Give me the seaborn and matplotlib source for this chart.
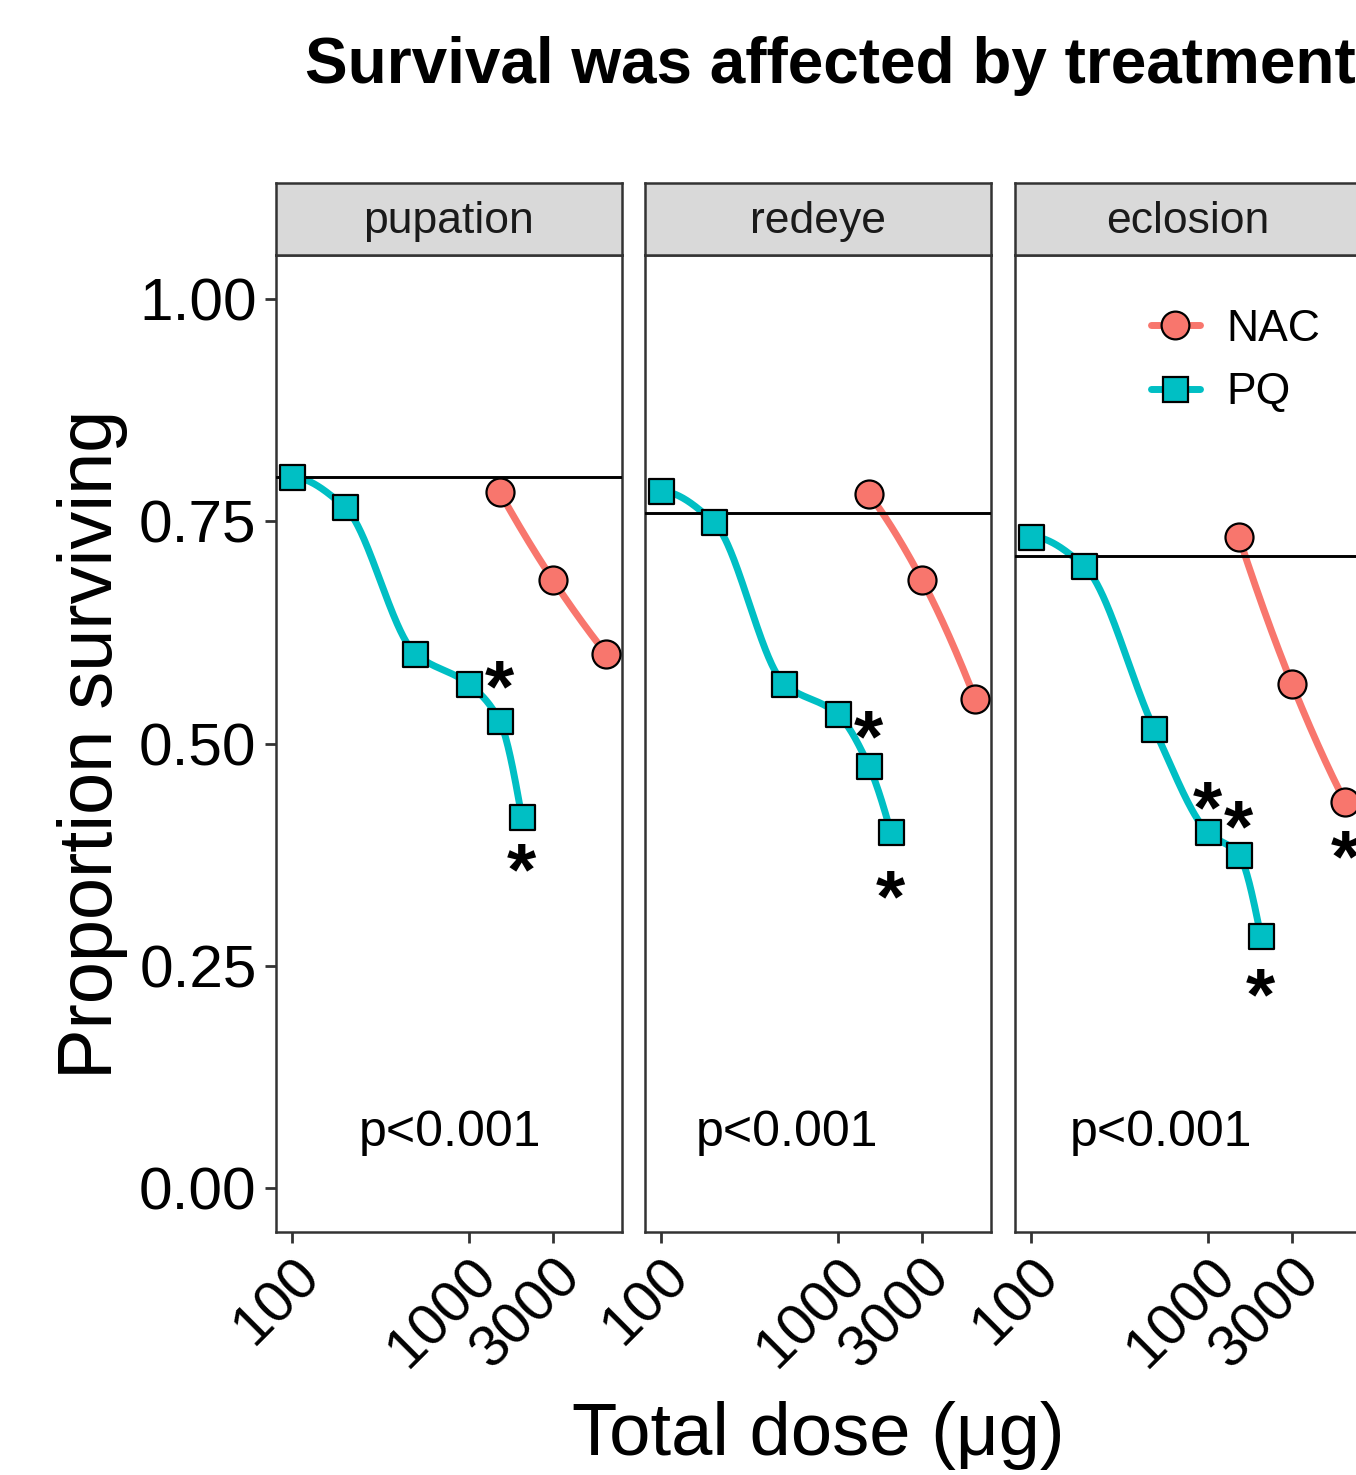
import numpy as np
import pandas as pd
import matplotlib
matplotlib.use("Agg")
import matplotlib.pyplot as plt
import matplotlib.transforms as mtransforms
from matplotlib.lines import Line2D
import seaborn as sns

# ---------------- data ----------------
stages = ["pupation", "redeye", "eclosion"]
pq_dose = [100, 200, 500, 1000, 1500, 2000]
nac_dose = [1500, 3000, 6000]

pq_pupation = [0.800, 0.766, 0.601, 0.567, 0.525, 0.417]
pq_redeye = [0.784, 0.749, 0.567, 0.533, 0.475, 0.400]
pq_eclosion = [0.733, 0.700, 0.516, 0.400, 0.375, 0.283]

nac_pupation = [0.783, 0.684, 0.601]
nac_redeye = [0.781, 0.684, 0.550]
nac_eclosion = [0.733, 0.567, 0.434]

control_level = [0.800, 0.759, 0.711]

star_dose_pupation = [1500, 2000]
star_y_pupation = [0.576, 0.370]
star_dose_redeye = [1500, 2000]
star_y_redeye = [0.520, 0.339]
star_dose_eclosion = [1000, 1500, 2000, 6000]
star_y_eclosion = [0.440, 0.418, 0.229, 0.385]

p_labels = ["p<0.001", "p<0.001", "p<0.001"]
p_label_dose = [790, 520, 545]
p_label_y = 0.047

x_ticks = [100, 1000, 3000]
y_ticks = [0.00, 0.25, 0.50, 0.75, 1.00]
y_tick_labels = ["0.00", "0.25", "0.50", "0.75", "1.00"]

pq_values = [pq_pupation, pq_redeye, pq_eclosion]
nac_values = [nac_pupation, nac_redeye, nac_eclosion]
star_doses = [star_dose_pupation, star_dose_redeye, star_dose_eclosion]
star_ys = [star_y_pupation, star_y_redeye, star_y_eclosion]

NAC_COL = "#F8766D"
PQ_COL = "#00BFC4"
palette = {"NAC": NAC_COL, "PQ": PQ_COL}

# ---------------- helpers ----------------
def pchip(x, y, xn):
    x = np.asarray(x, float); y = np.asarray(y, float)
    h = np.diff(x); d = np.diff(y) / h
    n = len(x)
    m = np.zeros(n)
    for k in range(1, n - 1):
        if d[k - 1] * d[k] > 0:
            w1 = 2 * h[k] + h[k - 1]; w2 = h[k] + 2 * h[k - 1]
            m[k] = (w1 + w2) / (w1 / d[k - 1] + w2 / d[k])
    def endslope(h0, h1, d0, d1):
        s = ((2 * h0 + h1) * d0 - h0 * d1) / (h0 + h1)
        if np.sign(s) != np.sign(d0):
            s = 0.0
        elif np.sign(d0) != np.sign(d1) and abs(s) > abs(3 * d0):
            s = 3 * d0
        return s
    m[0] = endslope(h[0], h[1], d[0], d[1])
    m[-1] = endslope(h[-1], h[-2], d[-1], d[-2])
    idx = np.clip(np.searchsorted(x, xn) - 1, 0, n - 2)
    t = (xn - x[idx]) / h[idx]
    h00 = 2 * t**3 - 3 * t**2 + 1
    h10 = t**3 - 2 * t**2 + t
    h01 = -2 * t**3 + 3 * t**2
    h11 = t**3 - t**2
    return h00 * y[idx] + h10 * h[idx] * m[idx] + h01 * y[idx + 1] + h11 * h[idx] * m[idx + 1]


def smooth_curve(dose, vals, label):
    lx = np.log10(dose)
    xn = np.linspace(lx[0], lx[-1], 300)
    yn = pchip(lx, vals, xn)
    return pd.DataFrame({"dose": 10 ** xn, "surv": yn, "treatment": label})

# ---------------- style ----------------
sns.set_theme(style="white")
plt.rcParams["font.family"] = ["Liberation Sans", "DejaVu Sans"]

W, H = 1356, 1475
fig = plt.figure(figsize=(W / 100, H / 100), dpi=100)
fig.patch.set_facecolor("white")

def fx(px):
    return px / W

def fy(py):
    return 1 - py / H

panel_left = [276, 645, 1015]
panel_w = 346
panel_top, panel_bot, strip_top = 255, 1232, 183
BORDER = "#333333"

lx0, lx1 = np.log10(100), np.log10(6000)
ex = 0.05 * (lx1 - lx0)
xlim = (10 ** (lx0 - ex), 10 ** (lx1 + ex))
ylim = (-0.05, 1.05)

axes = []
for i, stage in enumerate(stages):
    ax = fig.add_axes([fx(panel_left[i]), fy(panel_bot), panel_w / W, (panel_bot - panel_top) / H])
    axes.append(ax)
    ax.set_facecolor("white")
    ax.set_xscale("log")

    curves = pd.concat([smooth_curve(nac_dose, nac_values[i], "NAC"),
                        smooth_curve(pq_dose, pq_values[i], "PQ")], ignore_index=True)
    sns.lineplot(data=curves, x="dose", y="surv", hue="treatment", palette=palette,
                 linewidth=5, legend=False, ax=ax, sort=False, estimator=None, zorder=2)
    ax.axhline(control_level[i], color="black", lw=2.1, zorder=3)

    nac_df = pd.DataFrame({"dose": nac_dose, "surv": nac_values[i]})
    pq_df = pd.DataFrame({"dose": pq_dose, "surv": pq_values[i]})
    sns.scatterplot(data=nac_df, x="dose", y="surv", marker="o", s=(28 * 0.72) ** 2,
                    color=NAC_COL, edgecolor="black", linewidth=1.6, ax=ax, zorder=4)
    sns.scatterplot(data=pq_df, x="dose", y="surv", marker="s", s=(25 * 0.72) ** 2,
                    color=PQ_COL, edgecolor="black", linewidth=1.6, ax=ax, zorder=4)

    star_fs = 54
    trans = mtransforms.offset_copy(ax.transData, fig=fig, y=-0.47 * star_fs, units="points")
    for sd, sy in zip(star_doses[i], star_ys[i]):
        ax.text(sd, sy, "*", fontsize=star_fs, fontweight="bold", ha="center", va="baseline",
                transform=trans, color="black", zorder=5)

    ax.text(p_label_dose[i], p_label_y, p_labels[i], fontsize=36, ha="center",
            va="baseline", color="black")

    ax.set_xlim(*xlim)
    ax.set_ylim(*ylim)
    ax.set_xticks(x_ticks)
    ax.set_xticklabels([str(t) for t in x_ticks])
    ax.minorticks_off()
    ax.set_xlabel("")
    ax.set_ylabel("")
    for sp in ax.spines.values():
        sp.set_color(BORDER)
        sp.set_linewidth(1.8)
    ax.tick_params(axis="x", direction="out", length=8, width=2, color=BORDER,
                   labelsize=42, labelcolor="black", pad=4, bottom=True)
    for lab in ax.get_xticklabels():
        lab.set_rotation(45)
        lab.set_ha("right")
        lab.set_va("top")
        lab.set_rotation_mode("anchor")
    if i == 0:
        ax.set_yticks(y_ticks)
        ax.set_yticklabels(y_tick_labels)
        ax.tick_params(axis="y", direction="out", length=8, width=2, color=BORDER,
                       labelsize=43.5, labelcolor="black", pad=6, left=True)
    else:
        ax.set_yticks(y_ticks)
        ax.tick_params(axis="y", left=False, labelleft=False)
    ax.grid(False)

    sax = fig.add_axes([fx(panel_left[i]), fy(panel_top), panel_w / W, (panel_top - strip_top) / H])
    sax.set_facecolor("#D9D9D9")
    sax.set_xticks([]); sax.set_yticks([])
    for sp in sax.spines.values():
        sp.set_color(BORDER)
        sp.set_linewidth(1.8)
    sax.text(0.5, 0.47, stage, fontsize=32, color="#1A1A1A", ha="center", va="center",
             transform=sax.transAxes)

# legend
handles = [Line2D([], [], color=NAC_COL, lw=5, marker="o", ms=20, mfc=NAC_COL, mec="black", mew=1.6),
           Line2D([], [], color=PQ_COL, lw=5, marker="s", ms=18, mfc=PQ_COL, mec="black", mew=1.6)]
axes[2].legend(handles, ["NAC", "PQ"], loc="upper left", bbox_to_anchor=(fx(1151), fy(309)),
               bbox_transform=fig.transFigure, frameon=False, fontsize=32, handlelength=1.1,
               handletextpad=0.6, labelspacing=0.5, borderpad=0, borderaxespad=0,
               labelcolor="black")

# titles
fig.text(fx(305), fy(83), "Survival was affected by treatment", fontsize=46, fontweight="bold",
         ha="left", va="baseline", color="black")
fig.text(fx(818), fy(1455), "Total dose (\u03bcg)", fontsize=53.5, ha="center", va="baseline",
         color="black")
fig.text(fx(93), fy(744), "Proportion surviving", fontsize=54.5, rotation=90, ha="center",
         va="center", color="black")

fig.savefig("out.png", dpi=100)
